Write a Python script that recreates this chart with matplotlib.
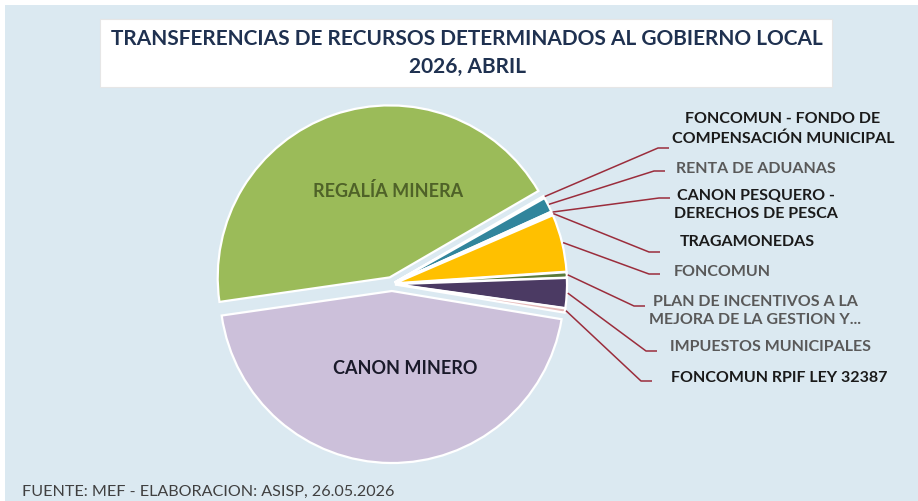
import matplotlib
matplotlib.use("Agg")
import matplotlib.pyplot as plt
from matplotlib.patches import Rectangle
import numpy as np

# ---- data ----
categories = [
    "REGALÍA MINERA",
    "FONCOMUN - FONDO DE\nCOMPENSACIÓN MUNICIPAL",
    "RENTA DE ADUANAS",
    "CANON PESQUERO -\nDERECHOS DE PESCA",
    "TRAGAMONEDAS",
    "FONCOMUN",
    "PLAN DE INCENTIVOS A LA\nMEJORA DE LA GESTION Y...",
    "IMPUESTOS MUNICIPALES",
    "FONCOMUN RPIF LEY 32387",
    "CANON MINERO",
]
shares = [43.9, 0.2, 1.4, 0.15, 0.15, 5.4, 0.5, 2.8, 0.4, 45.1]

title = "TRANSFERENCIAS DE RECURSOS DETERMINADOS AL GOBIERNO LOCAL\n2026, ABRIL"
footer = "FUENTE: MEF - ELABORACION: ASISP, 26.05.2026"

# ---- style ----
colors = ["#9bbb59", "#d9d9d9", "#31859c", "#c0504d", "#7f7f7f",
          "#ffc000", "#5a7a3a", "#4b3a63", "#e6b9b8", "#ccc0da"]
explode = [7, 3, 3, 3, 3, 3, 3, 3, 3, 7]
W, H = 918, 502
BG = "#dbe9f1"
FONT = "Lato"

fig = plt.figure(figsize=(W / 100, H / 100), dpi=100)
fig.patch.set_facecolor("white")
ax = fig.add_axes([0, 0, 1, 1])

def Y(y):
    return H - y

cx, cy, R = 392, Y(285), 172
wedges, _ = ax.pie(shares, colors=colors, explode=explode, startangle=188.2,
                   counterclock=False, radius=R, center=(cx, cy),
                   wedgeprops=dict(edgecolor="white", linewidth=1.6, zorder=3), frame=True)
ax.set_xlim(0, W)
ax.set_ylim(0, H)
ax.set_aspect("equal")
ax.axis("off")

# background panel (white margin at top/left)
ax.add_patch(Rectangle((5, 0), W - 5, H - 6, facecolor=BG, edgecolor="none", zorder=0))
# title box
ax.add_patch(Rectangle((100, Y(88)), 732, 68, facecolor="white", edgecolor="#e6e6e6",
                       linewidth=0.8, zorder=1))
ax.text(467, Y(53), title, ha="center", va="center", fontsize=15, fontweight="bold",
        color="#1f3150", family=FONT, linespacing=1.55, zorder=2)

ax.text(388, Y(191), "REGALÍA MINERA", ha="center", va="center", fontsize=13,
        fontweight="bold", color="#4f6228", family=FONT, zorder=5)
ax.text(405, Y(368), "CANON MINERO", ha="center", va="center", fontsize=13,
        fontweight="bold", color="#1a1a2a", family=FONT, zorder=5)

# label layout: text centre (x, y), leader end (x, y), text colour
label_layout = [
    None,
    ((783, 129), (669, 149), "#1a1a1a"),
    ((756, 169), (665, 172), "#595959"),
    ((756, 205), (670, 199), "#1a1a1a"),
    ((747, 242), (660, 253), "#1a1a1a"),
    ((722, 272), (660, 275), "#595959"),
    ((755, 311), (645, 307), "#595959"),
    ((771, 347), (657, 352), "#595959"),
    ((779, 378), (652, 382), "#1a1a1a"),
    None,
]

for w, lab, lay in zip(wedges, categories, label_layout):
    if lay is None:
        continue
    (tx, ty), (ex_, ey), col = lay
    th = np.deg2rad((w.theta1 + w.theta2) / 2)
    wx, wy = w.center
    sx = wx + (R + 1) * np.cos(th)
    sy = wy + (R + 1) * np.sin(th)
    ax.plot([sx, ex_ - 11, ex_], [sy, Y(ey), Y(ey)], color="#9b2d3c",
            linewidth=1.1, solid_capstyle="butt", zorder=4)
    ax.text(tx, Y(ty), lab, ha="center", va="center", fontsize=11.5,
            fontweight="bold", color=col, family=FONT, linespacing=1.45, zorder=5)

ax.text(22, Y(492), footer, ha="left", va="center", fontsize=11.6, color="#404040",
        family=FONT, zorder=5)

fig.savefig("out.png", dpi=100, facecolor=fig.get_facecolor())
